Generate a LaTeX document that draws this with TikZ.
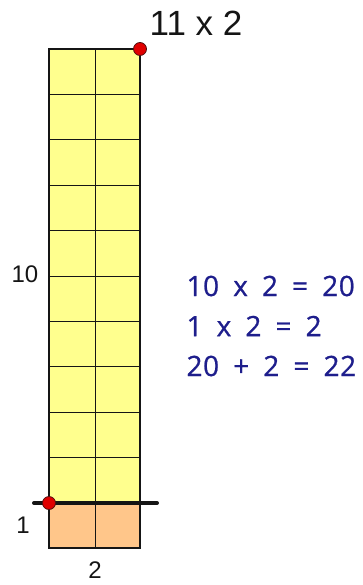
\documentclass[tikz,border=0pt]{standalone}
\usepackage{fontspec}
\setmainfont{Liberation Sans}
\newfontfamily\handfont[LetterSpace=2, WordSpace=1.8, FakeBold=0.8]{Open Sans}
\usetikzlibrary{positioning}
\definecolor{ink}{HTML}{151515}
\definecolor{pen}{HTML}{1E1E8C}
\definecolor{tens}{HTML}{FFFF8E}
\definecolor{ones}{HTML}{FFC68A}
\definecolor{mark}{HTML}{E00000}
\tikzset{
  every node/.style = {text=ink},
  gridline/.style   = {line width=0.8pt, draw=ink},
  gridedge/.style   = {line width=2.6pt, draw=ink},
  cutline/.style    = {line width=4pt, draw=ink, line cap=round},
  dotmark/.style    = {circle, fill=mark, draw=ink!70!mark, line width=0.8pt, inner sep=0pt, minimum size=13pt},
  sidelab/.style    = {font=\fontsize{24}{26}\selectfont},
  titlelab/.style   = {font=\fontsize{35}{38}\selectfont},
  sumlab/.style     = {font=\handfont\fontsize{28}{30}\selectfont, text=pen, anchor=west},
}
\begin{document}
\begin{tikzpicture}[x=1pt, y=-1pt]
\useasboundingbox (0,0) rectangle (362,585);

% ten rows of two, then one row of two
\fill[tens] (49,49) rectangle (140,503);
\fill[ones] (49,503) rectangle (140,548);
\foreach \r in {1,...,9}{\draw[gridline] (49,{49+\r*45.4}) -- (140,{49+\r*45.4});}
\draw[gridline] (95,49) -- (95,548);
\draw[gridedge] (49,49) rectangle (140,548);

\coordinate (cutL) at (34,503);
\coordinate (cutR) at (157,503);
\draw[cutline] (cutL) -- (cutR);

\node[dotmark] (topdot) at (140,49) {};
\node[dotmark] (cutdot) at (49,503) {};

\node[titlelab] (title)  at (196,23)  {11 x 2};
\node[sidelab]  (tenlab) at (25,274)  {10};
\node[sidelab]  (onelab) at (23,525)  {1};
\node[sidelab]  (twolab) at (95,570)  {2};

\node[sumlab] (sumten) at (183,286) {10 x 2 = 20};
\node[sumlab] (sumone) at (183,326) {1 x 2 = 2};
\node[sumlab] (sumall) at (183,366) {20 + 2 = 22};
\end{tikzpicture}
\end{document}
